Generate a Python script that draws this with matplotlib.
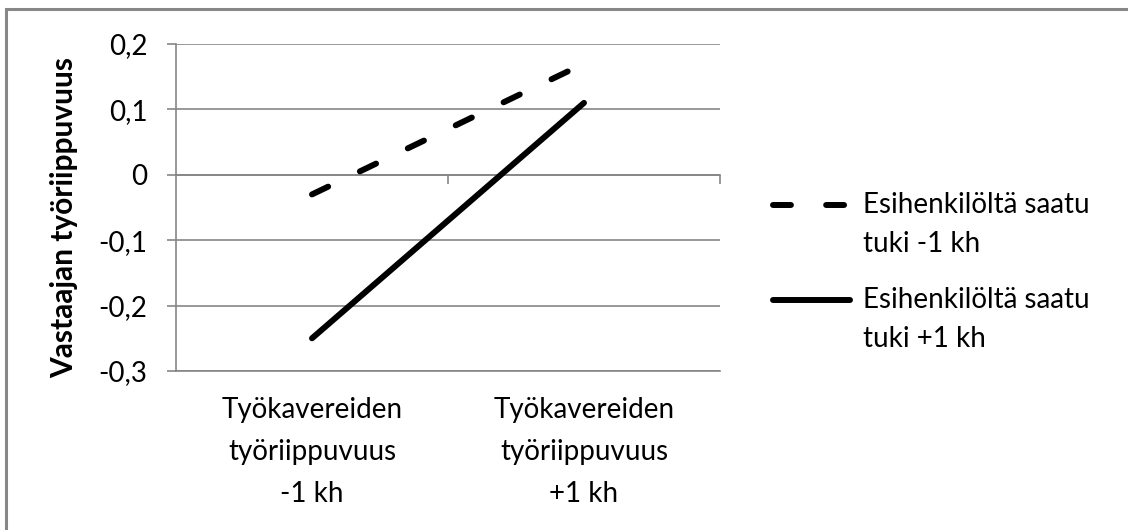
import matplotlib
matplotlib.use("Agg")
import matplotlib.pyplot as plt
from matplotlib.patches import Rectangle
from matplotlib.lines import Line2D

plt.rcParams['font.family'] = ['Lato', 'DejaVu Sans']

# data
categories = ["Työkavereiden\ntyöriippuvuus\n-1 kh", "Työkavereiden\ntyöriippuvuus\n+1 kh"]
series_names = ["Esihenkilöltä saatu\ntuki -1 kh", "Esihenkilöltä saatu\ntuki +1 kh"]
support_low = [-0.03, 0.17]
support_high = [-0.25, 0.11]
yticks = [-0.3, -0.2, -0.1, 0.0, 0.1, 0.2]
ytick_labels = ["-0,3", "-0,2", "-0,1", "0", "0,1", "0,2"]
y_label = "Vastaajan työriippuvuus"

W, H = 1128, 530
GRID = '#868686'
FS = 20
LW = 4.3
DASH = (0, (3.0, 5.9))

fig = plt.figure(figsize=(W / 100, H / 100), dpi=100)
ax = fig.add_axes([176 / W, 1 - 371 / H, 544 / W, 327 / H])

x = list(range(len(categories)))
ax.plot(x, support_low, color='black', lw=LW, linestyle=DASH,
        dash_capstyle='round', solid_capstyle='round', zorder=3)
ax.plot(x, support_high, color='black', lw=LW,
        solid_capstyle='round', zorder=3)

ax.set_xlim(-0.5, len(categories) - 0.5)
ax.set_ylim(min(yticks), max(yticks))
ax.set_yticks(yticks, labels=ytick_labels)
ax.set_xticks(x, labels=categories)

ax.yaxis.grid(True, color=GRID, lw=1.2)
ax.set_axisbelow(True)
for side in ['top', 'right']:
    ax.spines[side].set_visible(False)
for side in ['left', 'bottom']:
    ax.spines[side].set_color(GRID)
    ax.spines[side].set_linewidth(1.2)

ax.tick_params(axis='y', direction='out', length=6.5, width=1.2, color=GRID,
               pad=14, labelsize=FS, labelcolor='black')
ax.tick_params(axis='x', length=0, pad=19, labelsize=FS, labelcolor='black')
for lbl in ax.get_xticklabels():
    lbl.set_linespacing(1.75)

# horizontal axis crosses at zero, with ticks between categories
loc = (0 - min(yticks)) / (max(yticks) - min(yticks))
sec = ax.secondary_xaxis(loc)
sec.set_alignment('bottom')
sec.set_xticks([i + 0.5 for i in x])
sec.tick_params(direction='out', length=6.5, width=1.2, color=GRID, labelbottom=False, labeltop=False)
sec.spines['bottom'].set_color(GRID)
sec.spines['bottom'].set_linewidth(1.2)

ax.set_ylabel(y_label, fontsize=21.5, fontweight='bold')
ax.yaxis.set_label_coords(-0.18, 0.47)

# legend drawn like the spreadsheet one: handle next to the first text line
styles = [dict(linestyle=DASH, dash_capstyle='round'), dict(linestyle='-', solid_capstyle='round')]
legend_y = [205, 300]
for name, st, ly in zip(series_names, styles, legend_y):
    fig.add_artist(Line2D([773 / W, 850 / W], [1 - ly / H, 1 - ly / H],
                          transform=fig.transFigure, color='black', lw=LW, **st))
    for i, line in enumerate(name.split("\n")):
        fig.text(863 / W, 1 - (ly + i * 39) / H, line, fontsize=FS,
                 va='center', ha='left')

# outer chart border (only top and left visible in the crop)
fig.add_artist(Rectangle((5.5 / W, -0.2), 1.3, 1.2 - 8.5 / H, transform=fig.transFigure,
                         fill=False, ec='#878787', lw=2.2))

fig.savefig("out.png", dpi=100)
